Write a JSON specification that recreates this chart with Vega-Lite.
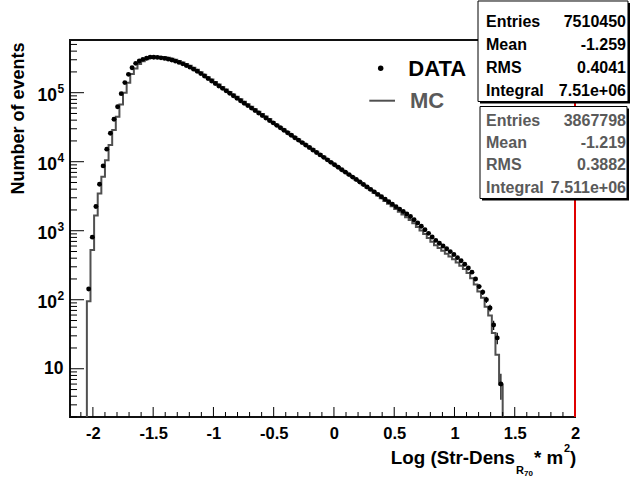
{
"$schema": "https://vega.github.io/schema/vega-lite/v6.json",
"width": 505, "height": 377,
"autosize": {"type": "none"},
"padding": {"left": 70, "top": 40, "right": 55, "bottom": 61},
"background": "white",
"config": {"view": {"stroke": "#111", "strokeWidth": 2}, "font": "Liberation Sans", "axis": {"title": null, "grid": false, "domain": false, "ticks": false}},
"data": {"values": [{"k": 1}]},
"datasets": {
"hist": [
{"x":-2.065,"mc":0.5},
{"x":-2.035,"data":143,"mc":95},{"x":-2.005,"data":807,"mc":525},{"x":-1.975,"data":2240,"mc":1660},{"x":-1.945,"data":4720,"mc":3470},{"x":-1.915,"data":8690,"mc":6030},{"x":-1.885,"data":15200,"mc":10500},{"x":-1.855,"data":25800,"mc":17400},{"x":-1.825,"data":41200,"mc":28800},{"x":-1.795,"data":62700,"mc":44700},{"x":-1.765,"data":96800,"mc":67600},{"x":-1.735,"data":140000,"mc":100000},{"x":-1.705,"data":184500,"mc":139600},{"x":-1.675,"data":230100,"mc":186200},{"x":-1.645,"data":266100,"mc":223900},{"x":-1.615,"data":287700,"mc":260000},{"x":-1.585,"data":304100,"mc":285100},{"x":-1.555,"data":316200,"mc":305500},{"x":-1.525,"data":327300,"mc":319900},{"x":-1.495,"data":326600,"mc":328900},{"x":-1.465,"data":324300,"mc":331100},{"x":-1.435,"data":319900,"mc":329600},{"x":-1.405,"data":314100,"mc":328900},{"x":-1.375,"data":306200,"mc":320600},{"x":-1.345,"data":297200,"mc":311200},{"x":-1.315,"data":286400,"mc":299900},{"x":-1.285,"data":274800,"mc":287700},{"x":-1.255,"data":261800,"mc":274100},{"x":-1.225,"data":248300,"mc":260000},{"x":-1.195,"data":234400,"mc":245400},{"x":-1.165,"data":219300,"mc":229600},{"x":-1.135,"data":204600,"mc":214200},{"x":-1.105,"data":189200,"mc":198100},{"x":-1.075,"data":174200,"mc":182400},{"x":-1.045,"data":160300,"mc":167800},{"x":-1.015,"data":147900,"mc":154900},{"x":-0.985,"data":136100,"mc":142500},{"x":-0.955,"data":125300,"mc":131200},{"x":-0.925,"data":115600,"mc":121000},{"x":-0.895,"data":106400,"mc":111400},{"x":-0.865,"data":97950,"mc":102600},{"x":-0.835,"data":90160,"mc":94400},{"x":-0.805,"data":83180,"mc":87090},{"x":-0.775,"data":76560,"mc":80160},{"x":-0.745,"data":70470,"mc":73780},{"x":-0.715,"data":65010,"mc":68070},{"x":-0.685,"data":59840,"mc":62650},{"x":-0.655,"data":55080,"mc":57670},{"x":-0.625,"data":50700,"mc":53080},{"x":-0.595,"data":46770,"mc":48970},{"x":-0.565,"data":43050,"mc":45070},{"x":-0.535,"data":39630,"mc":41490},{"x":-0.505,"data":36560,"mc":37400},{"x":-0.475,"data":33650,"mc":34420},{"x":-0.445,"data":30970,"mc":31680},{"x":-0.415,"data":28580,"mc":29240},{"x":-0.385,"data":26300,"mc":26900},{"x":-0.355,"data":24210,"mc":24770},{"x":-0.325,"data":22280,"mc":22790},{"x":-0.295,"data":20560,"mc":21030},{"x":-0.265,"data":18920,"mc":19360},{"x":-0.235,"data":17420,"mc":17820},{"x":-0.205,"data":16070,"mc":16440},{"x":-0.175,"data":14790,"mc":15130},{"x":-0.145,"data":13610,"mc":13920},{"x":-0.115,"data":12560,"mc":12850},{"x":-0.085,"data":11560,"mc":11830},{"x":-0.055,"data":10640,"mc":10880},{"x":-0.025,"data":9795,"mc":9860},{"x":0.005,"data":9036,"mc":9010},{"x":0.035,"data":8318,"mc":8350},{"x":0.065,"data":7656,"mc":7630},{"x":0.095,"data":7063,"mc":7090},{"x":0.125,"data":6501,"mc":6480},{"x":0.155,"data":5984,"mc":6000},{"x":0.185,"data":5521,"mc":5500},{"x":0.215,"data":5082,"mc":5090},{"x":0.245,"data":4677,"mc":4640},{"x":0.275,"data":4305,"mc":4236},{"x":0.305,"data":3972,"mc":3877},{"x":0.335,"data":3656,"mc":3539},{"x":0.365,"data":3365,"mc":3230},{"x":0.395,"data":3105,"mc":2959},{"x":0.425,"data":2858,"mc":2701},{"x":0.455,"data":2630,"mc":2467},{"x":0.485,"data":2427,"mc":2257},{"x":0.515,"data":2234,"mc":2062},{"x":0.545,"data":2056,"mc":1881},{"x":0.575,"data":1897,"mc":1722},{"x":0.605,"data":1746,"mc":1573},{"x":0.635,"data":1607,"mc":1435},{"x":0.665,"data":1445,"mc":1280},{"x":0.695,"data":1294,"mc":1137},{"x":0.725,"data":1159,"mc":1011},{"x":0.755,"data":1033,"mc":894},{"x":0.785,"data":916,"mc":786},{"x":0.815,"data":813,"mc":692},{"x":0.845,"data":724,"mc":616},{"x":0.875,"data":658,"mc":560},{"x":0.905,"data":600,"mc":511},{"x":0.935,"data":547,"mc":465},{"x":0.965,"data":498,"mc":424},{"x":0.995,"data":452,"mc":385},{"x":1.025,"data":407,"mc":346},{"x":1.055,"data":367,"mc":312},{"x":1.085,"data":327,"mc":278},{"x":1.115,"data":288,"mc":245},{"x":1.145,"data":251,"mc":204},{"x":1.175,"data":200,"mc":166},{"x":1.205,"data":155,"mc":132},{"x":1.235,"data":129,"mc":107},{"x":1.265,"data":100,"mc":79},{"x":1.295,"data":76,"mc":59},{"x":1.325,"data":43,"mc":33},{"x":1.355,"data":28,"mc":16},{"x":1.385,"data":6,"mc":5.9},
{"x":1.415,"mc":0.5}
],
"err": [
{"x":1.205,"lo":142.6,"hi":167.4},{"x":1.235,"lo":117.6,"hi":140.4},{"x":1.265,"lo":90,"hi":110},{"x":1.295,"lo":67.3,"hi":84.7},{"x":1.325,"lo":36.4,"hi":49.6},{"x":1.355,"lo":22.7,"hi":33.3},{"x":1.385,"lo":3.55,"hi":8.45}
],
"ymaj": [{"v":10},{"v":100},{"v":1000},{"v":10000},{"v":100000}],
"ypow": [{"v":100,"e":"2"},{"v":1000,"e":"3"},{"v":10000,"e":"4"},{"v":100000,"e":"5"}],
"ymin": [{"v":2},{"v":3},{"v":4},{"v":5},{"v":6},{"v":7},{"v":8},{"v":9},{"v":20},{"v":30},{"v":40},{"v":50},{"v":60},{"v":70},{"v":80},{"v":90},{"v":200},{"v":300},{"v":400},{"v":500},{"v":600},{"v":700},{"v":800},{"v":900},{"v":2000},{"v":3000},{"v":4000},{"v":5000},{"v":6000},{"v":7000},{"v":8000},{"v":9000},{"v":20000},{"v":30000},{"v":40000},{"v":50000},{"v":60000},{"v":70000},{"v":80000},{"v":90000},{"v":200000},{"v":300000},{"v":400000},{"v":500000}],
"xmaj": [{"v":-2},{"v":-1.5},{"v":-1},{"v":-0.5},{"v":0},{"v":0.5},{"v":1},{"v":1.5}],
"xmin": [{"v":-2.1},{"v":-1.9},{"v":-1.8},{"v":-1.7},{"v":-1.6},{"v":-1.4},{"v":-1.3},{"v":-1.2},{"v":-1.1},{"v":-0.9},{"v":-0.8},{"v":-0.7},{"v":-0.6},{"v":-0.4},{"v":-0.3},{"v":-0.2},{"v":-0.1},{"v":0.1},{"v":0.2},{"v":0.3},{"v":0.4},{"v":0.6},{"v":0.7},{"v":0.8},{"v":0.9},{"v":1.1},{"v":1.2},{"v":1.3},{"v":1.4},{"v":1.6},{"v":1.7},{"v":1.8},{"v":1.9}]
},
"layer": [
{"data": {"name": "hist"},
 "mark": {"type": "line", "interpolate": "step", "color": "#505050", "strokeWidth": 2, "clip": true},
 "encoding": {
  "x": {"field": "x", "type": "quantitative", "scale": {"type": "linear", "domain": [-2.19, 2], "nice": false, "zero": false},
        "axis": {"values": [-2,-1.5,-1,-0.5,0,0.5,1,1.5,2], "labelExpr": "'' + datum.value", "domain": false, "ticks": false, "grid": false, "labelFont": "Liberation Sans", "labelFontWeight": "bold", "labelFontSize": 16.5, "labelColor": "#000", "labelPadding": 8, "labelFlush": false, "labelOverlap": false, "title": null}},
  "y": {"field": "mc", "type": "quantitative", "scale": {"type": "log", "domain": [2, 580000], "nice": false},
        "axis": {"values": [10,100,1000,10000,100000], "labels": false, "domain": false, "ticks": false, "grid": false,
                 "title": "Number of events", "titleFont": "Liberation Sans", "titleFontWeight": "bold", "titleFontSize": 18, "titleColor": "#000", "titleAngle": -90, "titleAlign": "right", "titleBaseline": "middle", "titleX": -52, "titleY": 2}}
 }},
{"data": {"name": "hist"},
 "mark": {"type": "point", "shape": "circle", "filled": true, "color": "#000", "size": 24, "opacity": 1},
 "encoding": {
  "x": {"field": "x", "type": "quantitative", "scale": {"type": "linear", "domain": [-2.19, 2], "nice": false, "zero": false}},
  "y": {"field": "data", "type": "quantitative", "scale": {"type": "log", "domain": [2, 580000], "nice": false}}
 }},
{"data": {"name": "err"},
 "mark": {"type": "rule", "color": "#000", "strokeWidth": 1.2},
 "encoding": {
  "x": {"field": "x", "type": "quantitative", "scale": {"type": "linear", "domain": [-2.19, 2], "nice": false, "zero": false}},
  "y": {"field": "lo", "type": "quantitative", "scale": {"type": "log", "domain": [2, 580000], "nice": false}},
  "y2": {"field": "hi"}
 }},
{"data": {"name": "ymaj"},
 "mark": {"type": "rule", "color": "#000", "strokeWidth": 1},
 "encoding": {
  "y": {"field": "v", "type": "quantitative", "scale": {"type": "log", "domain": [2, 580000], "nice": false}},
  "x": {"datum": -2.19, "type": "quantitative", "scale": {"type": "linear", "domain": [-2.19, 2], "nice": false, "zero": false}},
  "x2": {"datum": -2.0738}
 }},
{"data": {"name": "ymin"},
 "mark": {"type": "rule", "color": "#000", "strokeWidth": 1},
 "encoding": {
  "y": {"field": "v", "type": "quantitative", "scale": {"type": "log", "domain": [2, 580000], "nice": false}},
  "x": {"datum": -2.19, "type": "quantitative", "scale": {"type": "linear", "domain": [-2.19, 2], "nice": false, "zero": false}},
  "x2": {"datum": -2.1319}
 }},
{"data": {"name": "xmaj"},
 "mark": {"type": "rule", "color": "#000", "strokeWidth": 1},
 "encoding": {
  "x": {"field": "v", "type": "quantitative", "scale": {"type": "linear", "domain": [-2.19, 2], "nice": false, "zero": false}},
  "y": {"datum": 2, "type": "quantitative", "scale": {"type": "log", "domain": [2, 580000], "nice": false}},
  "y2": {"datum": 2.792}
 }},
{"data": {"name": "xmin"},
 "mark": {"type": "rule", "color": "#000", "strokeWidth": 1},
 "encoding": {
  "x": {"field": "v", "type": "quantitative", "scale": {"type": "linear", "domain": [-2.19, 2], "nice": false, "zero": false}},
  "y": {"datum": 2, "type": "quantitative", "scale": {"type": "log", "domain": [2, 580000], "nice": false}},
  "y2": {"datum": 2.362}
 }},
{"data": {"values": [{"v": 10}]},
 "mark": {"type": "text", "align": "right", "baseline": "middle", "font": "Liberation Sans", "fontWeight": "bold", "fontSize": 17.5, "color": "#000"},
 "encoding": {
  "y": {"field": "v", "type": "quantitative", "scale": {"type": "log", "domain": [2, 580000], "nice": false}},
  "x": {"datum": -2.2439, "type": "quantitative", "scale": {"type": "linear", "domain": [-2.19, 2], "nice": false, "zero": false}},
  "text": {"value": "10"}
 }},
{"data": {"name": "ypow"},
 "mark": {"type": "text", "align": "right", "baseline": "middle", "font": "Liberation Sans", "fontWeight": "bold", "fontSize": 17.5, "color": "#000", "dy": 3},
 "encoding": {
  "y": {"field": "v", "type": "quantitative", "scale": {"type": "log", "domain": [2, 580000], "nice": false}},
  "x": {"datum": -2.2979, "type": "quantitative", "scale": {"type": "linear", "domain": [-2.19, 2], "nice": false, "zero": false}},
  "text": {"value": "10"}
 }},
{"data": {"name": "ypow"},
 "mark": {"type": "text", "align": "left", "baseline": "middle", "font": "Liberation Sans", "fontWeight": "bold", "fontSize": 12, "color": "#000", "dy": -4},
 "encoding": {
  "y": {"field": "v", "type": "quantitative", "scale": {"type": "log", "domain": [2, 580000], "nice": false}},
  "x": {"datum": -2.2937, "type": "quantitative", "scale": {"type": "linear", "domain": [-2.19, 2], "nice": false, "zero": false}},
  "text": {"field": "e"}
 }},
{"mark": {"type": "rule", "color": "#e00000", "strokeWidth": 2},
 "encoding": {
  "x": {"datum": 2, "type": "quantitative", "scale": {"type": "linear", "domain": [-2.19, 2], "nice": false, "zero": false}}
 }},
{"mark": {"type": "rect", "fill": "#000", "xOffset": 2, "x2Offset": 2, "yOffset": 2, "y2Offset": 2},
 "encoding": {
  "x": {"datum": 1.1952, "type": "quantitative", "scale": {"type": "linear", "domain": [-2.19, 2], "nice": false, "zero": false}},
  "x2": {"datum": 2.4397},
  "y": {"datum": 2131000, "type": "quantitative", "scale": {"type": "log", "domain": [2, 580000], "nice": false}},
  "y2": {"datum": 74540}
 }},
{"mark": {"type": "rect", "fill": "#fff", "stroke": "#000", "strokeWidth": 1},
 "encoding": {
  "x": {"datum": 1.1952, "type": "quantitative", "scale": {"type": "linear", "domain": [-2.19, 2], "nice": false, "zero": false}},
  "x2": {"datum": 2.4397},
  "y": {"datum": 2131000, "type": "quantitative", "scale": {"type": "log", "domain": [2, 580000], "nice": false}},
  "y2": {"datum": 74540}
 }},
{"mark": {"type": "rect", "fill": "#000", "xOffset": 2, "x2Offset": 2, "yOffset": 2, "y2Offset": 2},
 "encoding": {
  "x": {"datum": 1.2118, "type": "quantitative", "scale": {"type": "linear", "domain": [-2.19, 2], "nice": false, "zero": false}},
  "x2": {"datum": 2.4315},
  "y": {"datum": 63080, "type": "quantitative", "scale": {"type": "log", "domain": [2, 580000], "nice": false}},
  "y2": {"datum": 2931}
 }},
{"mark": {"type": "rect", "fill": "#fff", "stroke": "#000", "strokeWidth": 1},
 "encoding": {
  "x": {"datum": 1.2118, "type": "quantitative", "scale": {"type": "linear", "domain": [-2.19, 2], "nice": false, "zero": false}},
  "x2": {"datum": 2.4315},
  "y": {"datum": 63080, "type": "quantitative", "scale": {"type": "log", "domain": [2, 580000], "nice": false}},
  "y2": {"datum": 2931}
 }},
{"mark": {"type": "text", "align": "left", "baseline": "alphabetic", "lineHeight": 22.8, "font": "Liberation Sans", "fontWeight": "bold", "fontSize": 16, "color": "#000"},
 "encoding": {
  "x": {"datum": 1.2616, "type": "quantitative", "scale": {"type": "linear", "domain": [-2.19, 2], "nice": false, "zero": false}},
  "y": {"datum": 883100, "type": "quantitative", "scale": {"type": "log", "domain": [2, 580000], "nice": false}},
  "text": {"value": ["Entries", "Mean", "RMS", "Integral"]}
 }},
{"mark": {"type": "text", "align": "right", "baseline": "alphabetic", "lineHeight": 22.8, "font": "Liberation Sans", "fontWeight": "bold", "fontSize": 16, "color": "#000"},
 "encoding": {
  "x": {"datum": 2.4232, "type": "quantitative", "scale": {"type": "linear", "domain": [-2.19, 2], "nice": false, "zero": false}},
  "y": {"datum": 883100, "type": "quantitative", "scale": {"type": "log", "domain": [2, 580000], "nice": false}},
  "text": {"value": ["7510450", "-1.259", "0.4041", "7.51e+06"]}
 }},
{"mark": {"type": "text", "align": "left", "baseline": "alphabetic", "lineHeight": 22.3, "font": "Liberation Sans", "fontWeight": "bold", "fontSize": 16, "color": "#5a5a5a"},
 "encoding": {
  "x": {"datum": 1.2616, "type": "quantitative", "scale": {"type": "linear", "domain": [-2.19, 2], "nice": false, "zero": false}},
  "y": {"datum": 33240, "type": "quantitative", "scale": {"type": "log", "domain": [2, 580000], "nice": false}},
  "text": {"value": ["Entries", "Mean", "RMS", "Integral"]}
 }},
{"mark": {"type": "text", "align": "right", "baseline": "alphabetic", "lineHeight": 22.3, "font": "Liberation Sans", "fontWeight": "bold", "fontSize": 16, "color": "#5a5a5a"},
 "encoding": {
  "x": {"datum": 2.4232, "type": "quantitative", "scale": {"type": "linear", "domain": [-2.19, 2], "nice": false, "zero": false}},
  "y": {"datum": 33240, "type": "quantitative", "scale": {"type": "log", "domain": [2, 580000], "nice": false}},
  "text": {"value": ["3867798", "-1.219", "0.3882", "7.511e+06"]}
 }},
{"mark": {"type": "point", "shape": "circle", "filled": true, "color": "#000", "size": 30, "opacity": 1},
 "encoding": {
  "x": {"datum": 0.3879, "type": "quantitative", "scale": {"type": "linear", "domain": [-2.19, 2], "nice": false, "zero": false}},
  "y": {"datum": 225600, "type": "quantitative", "scale": {"type": "log", "domain": [2, 580000], "nice": false}}
 }},
{"mark": {"type": "text", "align": "left", "baseline": "alphabetic", "font": "Liberation Sans", "fontWeight": "bold", "fontSize": 22, "color": "#000"},
 "encoding": {
  "x": {"datum": 0.6169, "type": "quantitative", "scale": {"type": "linear", "domain": [-2.19, 2], "nice": false, "zero": false}},
  "y": {"datum": 177400, "type": "quantitative", "scale": {"type": "log", "domain": [2, 580000], "nice": false}},
  "text": {"value": "DATA"}
 }},
{"mark": {"type": "rule", "color": "#505050", "strokeWidth": 2},
 "encoding": {
  "x": {"datum": 0.2933, "type": "quantitative", "scale": {"type": "linear", "domain": [-2.19, 2], "nice": false, "zero": false}},
  "x2": {"datum": 0.5065},
  "y": {"datum": 76550, "type": "quantitative", "scale": {"type": "log", "domain": [2, 580000], "nice": false}}
 }},
{"mark": {"type": "text", "align": "left", "baseline": "alphabetic", "font": "Liberation Sans", "fontWeight": "bold", "fontSize": 22, "color": "#5a5a5a"},
 "encoding": {
  "x": {"datum": 0.6310, "type": "quantitative", "scale": {"type": "linear", "domain": [-2.19, 2], "nice": false, "zero": false}},
  "y": {"datum": 60200, "type": "quantitative", "scale": {"type": "log", "domain": [2, 580000], "nice": false}},
  "text": {"value": "MC"}
 }},
{"mark": {"type": "text", "align": "right", "baseline": "alphabetic", "font": "Liberation Sans", "fontWeight": "bold", "fontSize": 18.8, "color": "#000"},
 "encoding": {
  "x": {"datum": 1.5022, "type": "quantitative", "scale": {"type": "linear", "domain": [-2.19, 2], "nice": false, "zero": false}},
  "y": {"datum": 0.4239, "type": "quantitative", "scale": {"type": "log", "domain": [2, 580000], "nice": false}},
  "text": {"value": "Log (Str-Dens"}
 }},
{"mark": {"type": "text", "align": "left", "baseline": "alphabetic", "font": "Liberation Sans", "fontWeight": "bold", "fontSize": 11, "color": "#000"},
 "encoding": {
  "x": {"datum": 1.5105, "type": "quantitative", "scale": {"type": "linear", "domain": [-2.19, 2], "nice": false, "zero": false}},
  "y": {"datum": 0.2985, "type": "quantitative", "scale": {"type": "log", "domain": [2, 580000], "nice": false}},
  "text": {"value": "R"}
 }},
{"mark": {"type": "text", "align": "left", "baseline": "alphabetic", "font": "Liberation Sans", "fontWeight": "bold", "fontSize": 8, "color": "#000"},
 "encoding": {
  "x": {"datum": 1.5768, "type": "quantitative", "scale": {"type": "linear", "domain": [-2.19, 2], "nice": false, "zero": false}},
  "y": {"datum": 0.2793, "type": "quantitative", "scale": {"type": "log", "domain": [2, 580000], "nice": false}},
  "text": {"value": "70"}
 }},
{"mark": {"type": "text", "align": "left", "baseline": "alphabetic", "font": "Liberation Sans", "fontWeight": "bold", "fontSize": 18.8, "color": "#000"},
 "encoding": {
  "x": {"datum": 1.6598, "type": "quantitative", "scale": {"type": "linear", "domain": [-2.19, 2], "nice": false, "zero": false}},
  "y": {"datum": 0.4239, "type": "quantitative", "scale": {"type": "log", "domain": [2, 580000], "nice": false}},
  "text": {"value": "* m"}
 }},
{"mark": {"type": "text", "align": "left", "baseline": "alphabetic", "font": "Liberation Sans", "fontWeight": "bold", "fontSize": 11, "color": "#000"},
 "encoding": {
  "x": {"datum": 1.9088, "type": "quantitative", "scale": {"type": "linear", "domain": [-2.19, 2], "nice": false, "zero": false}},
  "y": {"datum": 0.6222, "type": "quantitative", "scale": {"type": "log", "domain": [2, 580000], "nice": false}},
  "text": {"value": "2"}
 }},
{"mark": {"type": "text", "align": "left", "baseline": "alphabetic", "font": "Liberation Sans", "fontWeight": "bold", "fontSize": 18.8, "color": "#000"},
 "encoding": {
  "x": {"datum": 1.9585, "type": "quantitative", "scale": {"type": "linear", "domain": [-2.19, 2], "nice": false, "zero": false}},
  "y": {"datum": 0.4239, "type": "quantitative", "scale": {"type": "log", "domain": [2, 580000], "nice": false}},
  "text": {"value": ")"}
 }}
]
}
